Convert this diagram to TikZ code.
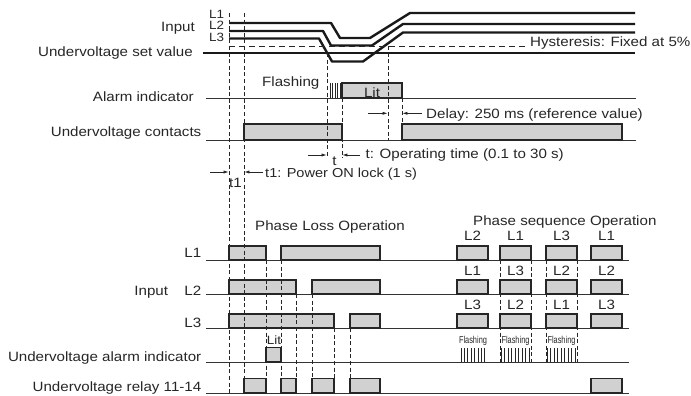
\documentclass[tikz,border=0pt]{standalone}
\usepackage{fontspec}
\setmainfont{Liberation Sans}[FakeStretch=1.12]
\newfontfamily\narrowfont{Liberation Sans}[FakeStretch=0.74]
\usetikzlibrary{arrows.meta}

\begin{document}
\begin{tikzpicture}[x=1pt,y=-1pt,
  txt/.style={inner sep=0pt,font=\fontsize{13.5}{16}\selectfont,text=black!85},
  phase/.style={inner sep=0pt,font=\fontsize{12}{13}\selectfont,text=black!85},
  small/.style={inner sep=0pt,font=\narrowfont\fontsize{10}{12}\selectfont,text=black!85},
  wave/.style={line width=2.4pt,color=black!90,line join=round},
  base/.style={line width=0.8pt,color=black!80},
  pulse/.style={draw=black!85,fill=black!18,line width=1.1pt},
  guide/.style={dash pattern=on 4pt off 2.6pt,line width=0.7pt,color=black!85},
  dimarr/.style={-{Latex[length=5pt,width=3.2pt]},line width=0.7pt,color=black!85},
  flash/.style={line width=0.7pt,color=black!85}]
\useasboundingbox (0,0) rectangle (691,396);

%Input waves L1, L2, L3
\draw [wave] (229,23) -- (331,23) -- (340,38) -- (370,38) -- (410,13) -- (635,13) ;
\draw [wave] (229,31) -- (323,31) -- (331,45.5) -- (372,45.5) -- (403,24) -- (635,24) ;
\draw [wave] (229,38.5) -- (319,38.5) -- (332,61.5) -- (363,61.5) -- (403,32.5) -- (635,32.5) ;
%Undervoltage set value
\draw [wave] (203,53) -- (635,53) ;
%Hysteresis level
\draw [dash pattern=on 6pt off 4pt,line width=0.8pt,color=black!85] (229,46) -- (527,46) ;

% Text Node
\node [txt,anchor=base east] (inp) at (195,31.7) {Input};
\node [phase,anchor=base west] (ina) at (209,19) {L1};
\node [phase,anchor=base west] (inb) at (209,29.8) {L2};
\node [phase,anchor=base west] (inc) at (209,41.2) {L3};
\node [txt,anchor=base east] (uvset) at (193,56.7) {Undervoltage set value};
\node [txt,anchor=base west] (hyst) at (530,46.4) {Hysteresis: Fixed at 5\%};

%Alarm indicator
\draw [base] (206,98) -- (636,98) ;
\draw [pulse] (342,83) rectangle (402,98) ;
\foreach \x in {330,332.5,...,340.5} \draw [flash] (\x,83) -- (\x,98) ;
\node [txt,anchor=base east] (alarm) at (194,101) {Alarm indicator};
\node [txt,anchor=base west] (flsh) at (262,87) {Flashing};
\node [txt,anchor=base] (lit) at (372,97) {Lit};

%Undervoltage contacts
\draw [base] (206,140) -- (636,140) ;
\draw [pulse] (244,124) rectangle (342,140) ;
\draw [pulse] (402,124) rectangle (622,140) ;
\node [txt,anchor=base east] (contacts) at (201.5,136.7) {Undervoltage contacts};

%Guide lines, upper part
\draw [guide] (327,53) -- (327,158) ;
\draw [guide] (342,98) -- (342,158) ;
\draw [guide] (388,46) -- (388,140) ;
\draw [guide] (402,98) -- (402,124) ;

%Delay
\coordinate (dlyL) at (368,113.3);
\coordinate (dlyA) at (387.6,113.3);
\coordinate (dlyR) at (422,113.3);
\coordinate (dlyB) at (402.4,113.3);
\draw [dimarr] (dlyL) -- (dlyA) ;
\draw [dimarr] (dlyR) -- (dlyB) ;
\node [txt,anchor=base west] (delay) at (426,118.3) {Delay: 250 ms (reference value)};

%Operating time
\coordinate (opL) at (308,155);
\coordinate (opA) at (326.6,155);
\coordinate (opR) at (360,155);
\coordinate (opB) at (342.4,155);
\draw [dimarr] (opL) -- (opA) ;
\draw [dimarr] (opR) -- (opB) ;
\node [txt,anchor=base] (tsym) at (334.5,165) {t};
\node [txt,anchor=base west] (optime) at (365.5,158.7) {t: Operating time (0.1 to 30 s)};

%Power ON lock
\coordinate (lkL) at (210,172);
\coordinate (lkA) at (228.6,172);
\coordinate (lkR) at (263,172);
\coordinate (lkB) at (244.4,172);
\draw [dimarr] (lkL) -- (lkA) ;
\draw [dimarr] (lkR) -- (lkB) ;
\node [txt,anchor=base] (tone) at (235.5,187) {t1};
\node [txt,anchor=base west,font=\fontsize{13}{16}\selectfont] (lock) at (265,177.8) {t1: Power ON lock (1 s)};

% Text Node
\node [txt,anchor=base west] (ploss) at (255,230) {Phase Loss Operation};
\node [txt,anchor=base west] (pseq) at (473,225) {Phase sequence Operation};

%Lower base lines
\foreach \y in {260,294,328,362,393} \draw [base] (206,\y) -- (629,\y) ;

%Phase loss pulses
\draw [pulse] (229,246) rectangle (266,260) ;
\draw [pulse] (281,246) rectangle (380,260) ;
\draw [pulse] (229,280) rectangle (296,294) ;
\draw [pulse] (312,280) rectangle (380,294) ;
\draw [pulse] (229,314) rectangle (334,328) ;
\draw [pulse] (350,314) rectangle (380,328) ;
\draw [pulse] (266,347.5) rectangle (281,362) ;
\draw [pulse] (244,378.5) rectangle (266,393) ;
\draw [pulse] (281,378.5) rectangle (296,393) ;
\draw [pulse] (312,378.5) rectangle (334,393) ;
\draw [pulse] (350,378.5) rectangle (380,393) ;

%Phase sequence pulses
\foreach \a/\b in {457/488,500/531,546/577,591/622} {
  \draw [pulse] (\a,246) rectangle (\b,260) ;
  \draw [pulse] (\a,280) rectangle (\b,294) ;
  \draw [pulse] (\a,314) rectangle (\b,328) ;
}
\draw [pulse] (591,378.5) rectangle (622,393) ;

%Guide lines, lower part
\draw [guide] (229,13) -- (229,393) ;
\draw [guide] (244,13) -- (244,378.5) ;
\foreach \x in {266,281} \draw [guide] (\x,260) -- (\x,393) ;
\foreach \x in {296,312} \draw [guide] (\x,294) -- (\x,393) ;
\foreach \x in {334,350} \draw [guide] (\x,328) -- (\x,393) ;
\foreach \x in {500,531,546,577} \draw [guide] (\x,260) -- (\x,362) ;

%Flashing, phase sequence
\foreach \x in {461,464.4,...,485.5} \draw [flash] (\x,348) -- (\x,362) ;
\foreach \x in {501,504.5,...,529.5} \draw [flash] (\x,348) -- (\x,362) ;
\foreach \x in {547,550.5,...,575.5} \draw [flash] (\x,348) -- (\x,362) ;
\node [small,anchor=base] (fla) at (473,343.5) {Flashing};
\node [small,anchor=base] (flb) at (515.5,343.5) {Flashing};
\node [small,anchor=base] (flc) at (561.5,343.5) {Flashing};

% Text Node
\node [txt,anchor=base east] (la) at (201.5,257) {L1};
\node [txt,anchor=base east] (lin) at (168.3,295) {Input};
\node [txt,anchor=base east] (lb) at (201.5,295) {L2};
\node [txt,anchor=base east] (lc) at (201.5,327.5) {L3};
\node [txt,anchor=base east] (uvalarm) at (201.5,361.5) {Undervoltage alarm indicator};
\node [txt,anchor=base east] (uvrelay) at (201.5,391.7) {Undervoltage relay 11-14};
\node [txt,anchor=base,font=\fontsize{12}{14}\selectfont] (lit2) at (274,344.5) {Lit};

%Phase sequence labels
\foreach \c/\p/\q/\r in {472.5/L2/L1/L3,515.5/L1/L3/L2,561.5/L3/L2/L1,606.5/L1/L2/L3} {
  \node [txt,anchor=base] at (\c,240.7) {\p};
  \node [txt,anchor=base] at (\c,275) {\q};
  \node [txt,anchor=base] at (\c,309.5) {\r};
}

\end{tikzpicture}
\end{document}
